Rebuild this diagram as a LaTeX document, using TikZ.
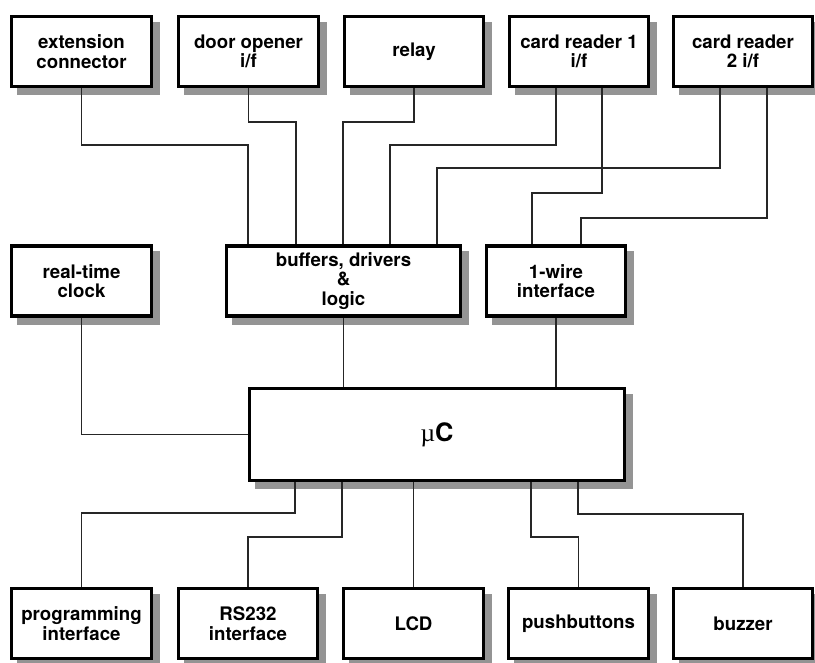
\documentclass[tikz,border=0pt]{standalone}
\usepackage{fontspec}
\setmainfont{TeX Gyre Heros}
\newfontfamily\muserif{Liberation Serif}
\usetikzlibrary{calc,backgrounds}
\tikzset{
  blk/.style={draw=black, line width=2.4pt, fill=white, align=center,
    inner sep=0pt, font=\fontsize{14pt}{14.6pt}\selectfont\bfseries,
    minimum width=104.5pt, minimum height=52.5pt},
  wire/.style={line width=1.4pt, draw=black!85},
  shade/.style={fill=black!42}
}
\newcommand\boxshadow[1]{\fill[shade] ($(#1.south west)+(7,7)$) rectangle ($(#1.north east)+(7,7)$);}
\begin{document}
\begin{tikzpicture}[x=0.75pt,y=-0.75pt]
\useasboundingbox (0,0) rectangle (815,662);
% top row
\node[blk] (ext) at (81.5,51.5) {extension\\connector};
\node[blk] (door) at (248.5,51.5) {door opener\\i/f};
\node[blk] (relay) at (414,51.5) {relay};
\node[blk] (cr1) at (579,51.5) {card reader 1\\i/f};
\node[blk] (cr2) at (743,51.5) {card reader\\2 i/f};
% middle row
\node[blk] (rtc) at (81.5,281) {real-time\\clock};
\node[blk, minimum width=175.5pt] (buf) at (343.5,281) {buffers, drivers\\\&\\logic};
\node[blk] (ow) at (556,281) {1-wire\\interface};
% uC
\node[blk, minimum width=281.5pt, minimum height=69pt,
  font=\fontsize{19pt}{20pt}\selectfont\bfseries] (uc) at (437,434.5) {{\muserif\mdseries µ}C};
% bottom row
\node[blk] (prog) at (81.5,623.5) {programming\\interface};
\node[blk] (rs) at (248,623.5) {RS232\\interface};
\node[blk] (lcd) at (413.5,623.5) {LCD};
\node[blk] (push) at (578.5,623.5) {pushbuttons};
\node[blk] (buz) at (743,623.5) {buzzer};
% shadows
\begin{scope}[on background layer]
  \foreach \n in {ext,door,relay,cr1,cr2,rtc,buf,ow,uc,prog,rs,lcd,push,buz}{\boxshadow{\n}}
\end{scope}
% turning points
\coordinate (t1) at (248,145);
\coordinate (t2) at (296,122);
\coordinate (t3) at (343,122);
\coordinate (t4) at (390,145);
\coordinate (t5) at (532,193);
\coordinate (t6) at (437,168);
\coordinate (t7) at (581,218);
\coordinate (b1) at (295,513);
\coordinate (b2) at (342,537);
\coordinate (b4) at (531,537);
\coordinate (b5) at (578,514);
% top connectors
\draw[wire] (ext.south) |- (t1) -- (t1 |- buf.north);
\draw[wire] (door.south) |- (t2) -- (t2 |- buf.north);
\draw[wire] (relay.south) |- (t3) -- (t3 |- buf.north);
\draw[wire] ($(cr1.south)+(-23,0)$) |- (t4) -- (t4 |- buf.north);
\draw[wire] ($(cr1.south)+(23,0)$) |- (t5) -- (t5 |- ow.north);
\draw[wire] ($(cr2.south)+(-23,0)$) |- (t6) -- (t6 |- buf.north);
\draw[wire] ($(cr2.south)+(24,0)$) |- (t7) -- (t7 |- ow.north);
% middle connectors
\draw[wire] (rtc.south) |- (uc.west);
\draw[wire] (buf.south) -- (buf.south |- uc.north);
\draw[wire] (ow.south) -- (ow.south |- uc.north);
% bottom connectors
\draw[wire] (b1 |- uc.south) -- (b1) -| (prog.north);
\draw[wire] (b2 |- uc.south) -- (b2) -| (rs.north);
\draw[wire] (lcd.north |- uc.south) -- (lcd.north);
\draw[wire] (b4 |- uc.south) -- (b4) -| (push.north);
\draw[wire] (b5 |- uc.south) -- (b5) -| (buz.north);
\end{tikzpicture}
\end{document}
